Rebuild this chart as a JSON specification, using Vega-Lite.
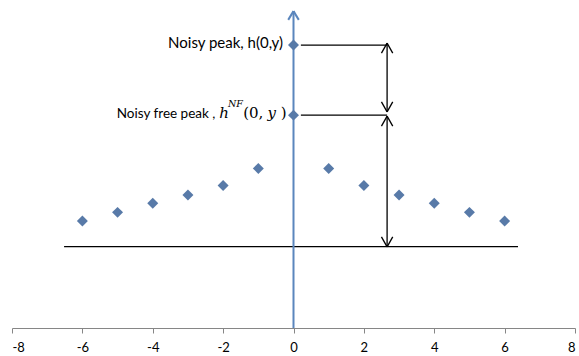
{
  "$schema": "https://vega.github.io/schema/vega-lite/v6.json",
  "width": 563,
  "height": 323,
  "padding": {"left": 12, "top": 5, "right": 4, "bottom": 28},
  "autosize": "none",
  "background": "white",
  "config": {"view": {"stroke": null}},
  "datasets": {
    "points": [
      {"x": -6, "h": 3.31}, {"x": -5, "h": 3.58}, {"x": -4, "h": 3.86}, {"x": -3, "h": 4.12},
      {"x": -2, "h": 4.41}, {"x": -1, "h": 4.94}, {"x": 0, "h": 8.76}, {"x": 0, "h": 6.59},
      {"x": 1, "h": 4.94}, {"x": 2, "h": 4.41}, {"x": 3, "h": 4.12}, {"x": 4, "h": 3.86},
      {"x": 5, "h": 3.58}, {"x": 6, "h": 3.31}
    ],
    "segments": [
      {"kind": "axis", "x": 0, "y": 0, "x2": 0, "y2": 9.81},
      {"kind": "axis", "x": -0.15, "y": 9.54, "x2": 0, "y2": 9.81},
      {"kind": "axis", "x": 0.15, "y": 9.54, "x2": 0, "y2": 9.81},
      {"kind": "annot", "x": -6.52, "y": 2.52, "x2": 6.38, "y2": 2.52},
      {"kind": "annot", "x": 0.21, "y": 8.76, "x2": 2.66, "y2": 8.76},
      {"kind": "annot", "x": 0.21, "y": 6.59, "x2": 2.66, "y2": 6.59},
      {"kind": "annot", "x": 2.66, "y": 8.82, "x2": 2.66, "y2": 6.69},
      {"kind": "annot", "x": 2.50, "y": 8.51, "x2": 2.66, "y2": 8.82},
      {"kind": "annot", "x": 2.82, "y": 8.51, "x2": 2.66, "y2": 8.82},
      {"kind": "annot", "x": 2.50, "y": 7.00, "x2": 2.66, "y2": 6.69},
      {"kind": "annot", "x": 2.82, "y": 7.00, "x2": 2.66, "y2": 6.69},
      {"kind": "annot", "x": 2.66, "y": 6.56, "x2": 2.66, "y2": 2.51},
      {"kind": "annot", "x": 2.50, "y": 6.25, "x2": 2.66, "y2": 6.56},
      {"kind": "annot", "x": 2.82, "y": 6.25, "x2": 2.66, "y2": 6.56},
      {"kind": "annot", "x": 2.50, "y": 2.82, "x2": 2.66, "y2": 2.51},
      {"kind": "annot", "x": 2.82, "y": 2.82, "x2": 2.66, "y2": 2.51}
    ],
    "labels": [
      {"role": "sans1", "t": "Noisy peak, h(0,y)", "x": -0.30, "y": 8.66},
      {"role": "sans2", "t": "Noisy free peak ,", "x": -2.22, "y": 6.50},
      {"role": "italic", "t": "h", "x": -2.11, "y": 6.50},
      {"role": "italic", "t": "y", "x": -0.74, "y": 6.50},
      {"role": "sup", "t": "NF", "x": -1.86, "y": 6.85},
      {"role": "regular", "t": "(0,", "x": -1.43, "y": 6.50},
      {"role": "regular", "t": ")", "x": -0.36, "y": 6.50}
    ]
  },
  "layer": [
    {
      "data": {"name": "segments"},
      "transform": [{"filter": "datum.kind == 'annot'"}],
      "mark": {"type": "rule", "color": "#000000", "strokeWidth": 1.3},
      "encoding": {
        "x": {"field": "x", "type": "quantitative", "scale": {"domain": [-8, 8], "nice": false, "zero": false},
              "axis": {"values": [-8, -6, -4, -2, 0, 2, 4, 6, 8], "grid": false, "title": null,
                       "labelExpr": "replace(datum.label, '\u2212', '-')",
                       "domainColor": "#868686", "tickColor": "#868686", "tickSize": 5,
                       "labelFont": "Lato", "labelFontSize": 13, "labelColor": "#000000", "labelPadding": 8}},
        "y": {"field": "y", "type": "quantitative", "scale": {"domain": [0, 10], "nice": false}, "axis": null},
        "x2": {"field": "x2"},
        "y2": {"field": "y2"}
      }
    },
    {
      "data": {"name": "segments"},
      "transform": [{"filter": "datum.kind == 'axis'"}],
      "mark": {"type": "rule", "color": "#5b86bd", "strokeWidth": 2},
      "encoding": {
        "x": {"field": "x", "type": "quantitative"},
        "y": {"field": "y", "type": "quantitative"},
        "x2": {"field": "x2"},
        "y2": {"field": "y2"}
      }
    },
    {
      "data": {"name": "points"},
      "mark": {"type": "point", "shape": "diamond", "filled": true, "size": 120, "color": "#587aa8", "opacity": 1},
      "encoding": {
        "x": {"field": "x", "type": "quantitative"},
        "y": {"field": "h", "type": "quantitative"}
      }
    },
    {
      "data": {"name": "labels"},
      "transform": [{"filter": "datum.role == 'sans1'"}],
      "mark": {"type": "text", "align": "right", "baseline": "alphabetic", "font": "Lato", "fontSize": 15, "color": "#000000"},
      "encoding": {
        "x": {"field": "x", "type": "quantitative"},
        "y": {"field": "y", "type": "quantitative"},
        "text": {"field": "t"}
      }
    },
    {
      "data": {"name": "labels"},
      "transform": [{"filter": "datum.role == 'sans2'"}],
      "mark": {"type": "text", "align": "right", "baseline": "alphabetic", "font": "Lato", "fontSize": 13.5, "color": "#000000"},
      "encoding": {
        "x": {"field": "x", "type": "quantitative"},
        "y": {"field": "y", "type": "quantitative"},
        "text": {"field": "t"}
      }
    },
    {
      "data": {"name": "labels"},
      "transform": [{"filter": "datum.role == 'italic'"}],
      "mark": {"type": "text", "align": "left", "baseline": "alphabetic", "font": "DejaVu Serif", "fontStyle": "italic", "fontSize": 15, "color": "#000000"},
      "encoding": {
        "x": {"field": "x", "type": "quantitative"},
        "y": {"field": "y", "type": "quantitative"},
        "text": {"field": "t"}
      }
    },
    {
      "data": {"name": "labels"},
      "transform": [{"filter": "datum.role == 'sup'"}],
      "mark": {"type": "text", "align": "left", "baseline": "alphabetic", "font": "DejaVu Serif", "fontStyle": "italic", "fontSize": 9.5, "color": "#000000"},
      "encoding": {
        "x": {"field": "x", "type": "quantitative"},
        "y": {"field": "y", "type": "quantitative"},
        "text": {"field": "t"}
      }
    },
    {
      "data": {"name": "labels"},
      "transform": [{"filter": "datum.role == 'regular'"}],
      "mark": {"type": "text", "align": "left", "baseline": "alphabetic", "font": "DejaVu Serif", "fontSize": 15, "color": "#000000"},
      "encoding": {
        "x": {"field": "x", "type": "quantitative"},
        "y": {"field": "y", "type": "quantitative"},
        "text": {"field": "t"}
      }
    }
  ]
}
